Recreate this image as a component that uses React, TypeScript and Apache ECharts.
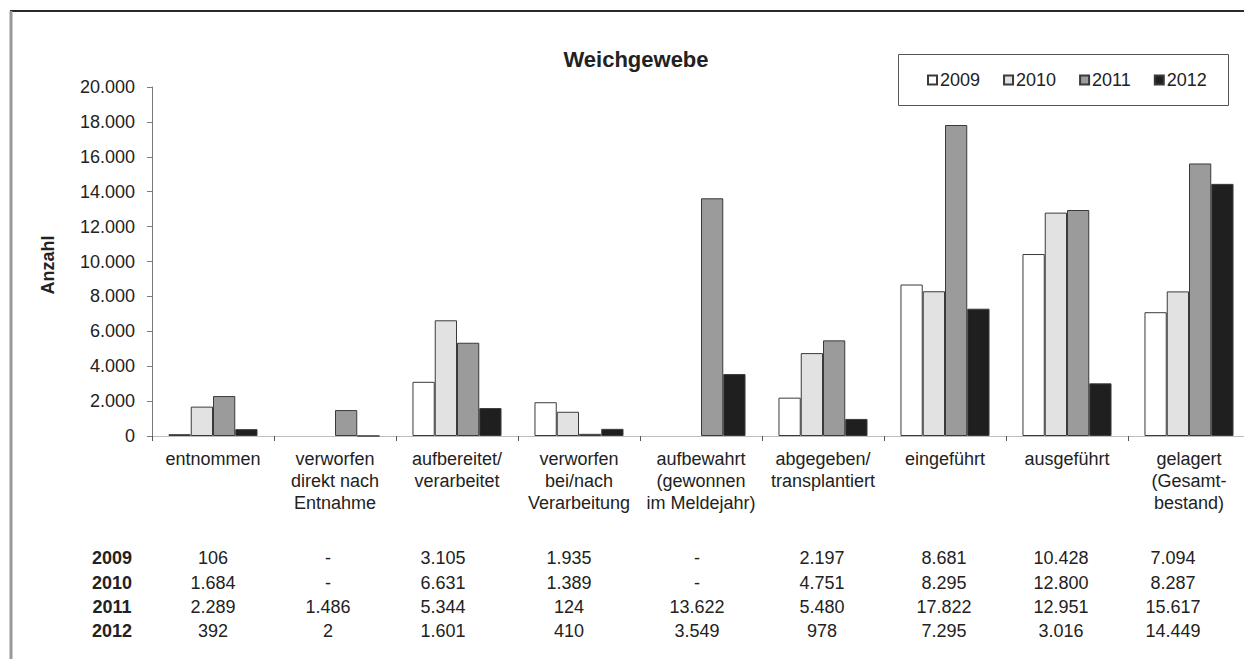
import React, { useEffect, useRef } from "react";
import * as echarts from "echarts";

const categories = [
  "entnommen",
  "verworfen\ndirekt nach\nEntnahme",
  "aufbereitet/\nverarbeitet",
  "verworfen\nbei/nach\nVerarbeitung",
  "aufbewahrt\n(gewonnen\nim Meldejahr)",
  "abgegeben/\ntransplantiert",
  "eingeführt",
  "ausgeführt",
  "gelagert\n(Gesamt-\nbestand)",
];

const years = ["2009", "2010", "2011", "2012"];
const v2009 = [106, null, 3105, 1935, null, 2197, 8681, 10428, 7094];
const v2010 = [1684, null, 6631, 1389, null, 4751, 8295, 12800, 8287];
const v2011 = [2289, 1486, 5344, 124, 13622, 5480, 17822, 12951, 15617];
const v2012 = [392, 2, 1601, 410, 3549, 978, 7295, 3016, 14449];
const seriesValues = [v2009, v2010, v2011, v2012];
const yTicks = { min: 0, max: 20000, interval: 2000 };

const FONT = '"Liberation Sans", Arial, sans-serif';
const TXT = "#222";
const fills = ["#ffffff", "#e2e2e2", "#9b9b9b", "#1f1f1f"];

function fmt(v: number | null): string {
  if (v === null || v === undefined) return "-";
  const s = String(Math.round(v));
  return s.replace(/\B(?=(\d{3})+(?!\d))/g, ".");
}

export default function App() {
  const ref = useRef<HTMLDivElement>(null);
  useEffect(() => {
    if (!ref.current) return;
    const chart = echarts.init(ref.current, null, { renderer: "svg" });

    const colX = [213, 328, 443, 569, 697, 822, 944, 1061, 1173];
    const rowY = [558, 583, 607, 631];
    const tableTexts: any[] = [];
    years.forEach((y, r) => {
      tableTexts.push({
        type: "text",
        x: 112,
        y: rowY[r],
        style: {
          text: y,
          font: `bold 18px ${FONT}`,
          fill: TXT,
          textAlign: "center",
          textVerticalAlign: "middle",
        },
      });
      seriesValues[r].forEach((v, c) => {
        tableTexts.push({
          type: "text",
          x: colX[c],
          y: rowY[r],
          style: {
            text: fmt(v as any),
            font: `18px ${FONT}`,
            fill: TXT,
            textAlign: "center",
            textVerticalAlign: "middle",
          },
        });
      });
    });

    chart.setOption({
      animation: false,
      backgroundColor: "#ffffff",
      grid: { left: 152, top: 87, bottom: 223, right: 0, containLabel: false },
      legend: {
        left: 927,
        top: 71,
        padding: 0,
        itemWidth: 9,
        itemHeight: 9,
        itemGap: 23,
        icon: "rect",
        textStyle: { fontFamily: FONT, fontSize: 18, color: TXT, padding: [0, 0, 0, -2] },
        data: years,
      },
      xAxis: {
        type: "category",
        data: categories,
        axisLine: { lineStyle: { color: "#bdbdbd", width: 1 } },
        axisTick: { show: true, length: 5, lineStyle: { color: "#555" } },
        axisLabel: {
          interval: 0,
          margin: 12,
          fontFamily: FONT,
          fontSize: 18,
          lineHeight: 22,
          color: TXT,
        },
      },
      yAxis: {
        type: "value",
        min: yTicks.min,
        max: yTicks.max,
        interval: yTicks.interval,
        splitLine: { show: false },
        axisLine: { show: true, lineStyle: { color: "#7a7a7a", width: 1 } },
        axisTick: { show: true, length: 5, lineStyle: { color: "#7a7a7a" } },
        axisLabel: {
          margin: 17,
          fontFamily: FONT,
          fontSize: 18,
          color: TXT,
          formatter: (v: number) => fmt(v),
        },
      },
      series: years.map((y, i) => ({
        name: y,
        type: "bar",
        data: seriesValues[i],
        barGap: "0%",
        barCategoryGap: "27%",
        itemStyle: { color: fills[i], borderColor: "#3a3a3a", borderWidth: 1 },
      })),
      graphic: [
        {
          type: "line",
          shape: { x1: 10, y1: 11, x2: 1250, y2: 11 },
          style: { stroke: "#2a2a2a", lineWidth: 2 },
        },
        {
          type: "line",
          shape: { x1: 11, y1: 11, x2: 11, y2: 659 },
          style: { stroke: "#999", lineWidth: 3 },
        },
        {
          type: "rect",
          shape: { x: 898.5, y: 54.5, width: 330, height: 51 },
          style: { fill: "none", stroke: "#555", lineWidth: 1 },
        },
        {
          type: "text",
          x: 636,
          y: 59,
          style: {
            text: "Weichgewebe",
            font: `bold 22px ${FONT}`,
            fill: TXT,
            textAlign: "center",
            textVerticalAlign: "middle",
          },
        },
        {
          type: "text",
          x: 48,
          y: 265,
          rotation: Math.PI / 2,
          style: {
            text: "Anzahl",
            font: `bold 18px ${FONT}`,
            fill: TXT,
            textAlign: "center",
            textVerticalAlign: "middle",
          },
        },
        ...tableTexts,
      ],
    });
    return () => chart.dispose();
  }, []);
  return (
    <div
      style={{
        position: "fixed",
        left: 0,
        top: 0,
        width: 1244,
        height: 659,
        overflow: "hidden",
        background: "#fff",
      }}
    >
      <div ref={ref} style={{ width: 1250, height: 659 }} />
    </div>
  );
}
